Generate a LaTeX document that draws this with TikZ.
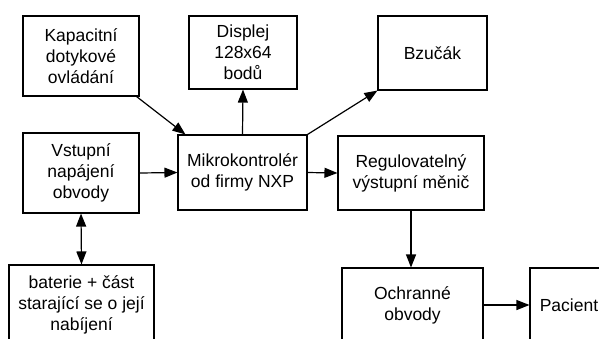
\documentclass[tikz,border=0pt]{standalone}
\usepackage{fontspec}
\setmainfont{Liberation Sans}
\usetikzlibrary{arrows.meta,calc}
\begin{document}
\begin{tikzpicture}[x=1pt,y=-1pt,
  blk/.style={draw=black,line width=1.1pt,inner sep=0pt,align=center,
    font=\fontsize{17.5}{20.8}\selectfont},
  conn/.style={line width=1.2pt,-{Triangle[length=13pt,width=10pt]}},
  dconn/.style={line width=1.2pt,{Triangle[length=13pt,width=10pt]}-{Triangle[length=13pt,width=10pt]}}]
\clip (0,0) rectangle (599,338);
\fill[white] (0,0) rectangle (599,338);
\node[blk,minimum width=116pt,minimum height=80pt] (kap) at (81,56) {Kapacitní\\dotykové\\ovládání};
\node[blk,minimum width=108pt,minimum height=73pt] (disp) at (243,52.5) {Displej\\128x64\\bodů};
\node[blk,minimum width=109pt,minimum height=74pt] (bz) at (432.5,53) {Bzučák};
\node[blk,minimum width=116pt,minimum height=80pt] (vst) at (81,173) {Vstupní\\napájení\\obvody};
\node[blk,minimum width=129pt,minimum height=75pt] (mik) at (242.5,172.5) {Mikrokontrolér\\od firmy NXP};
\node[blk,minimum width=146pt,minimum height=74pt] (reg) at (411,173) {Regulovatelný\\výstupní měnič};
\node[blk,minimum width=145pt,minimum height=80pt] (bat) at (81.5,305) {baterie + část\\starající se o její\\nabíjení};
\node[blk,minimum width=141pt,minimum height=74pt] (och) at (412.5,305) {Ochranné\\obvody};
\node[blk,minimum width=78pt,minimum height=74pt] (pac) at (569,305) {Pacient};
\draw[conn] ($(kap.south east)+(-3,0)$) -- ($(mik.north west)+(8,0)$);
\draw[conn] (mik.north) -- (disp.south);
\draw[conn] (mik.north east) -- (bz.south west);
\draw[conn] (vst.east) -- (mik.west);
\draw[conn] (mik.east) -- (reg.west);
\draw[dconn] (vst.south) -- (bat.north);
\draw[conn] (reg.south) -- (reg.south |- och.north);
\draw[conn] (och.east) -- (pac.west);
\end{tikzpicture}
\end{document}
